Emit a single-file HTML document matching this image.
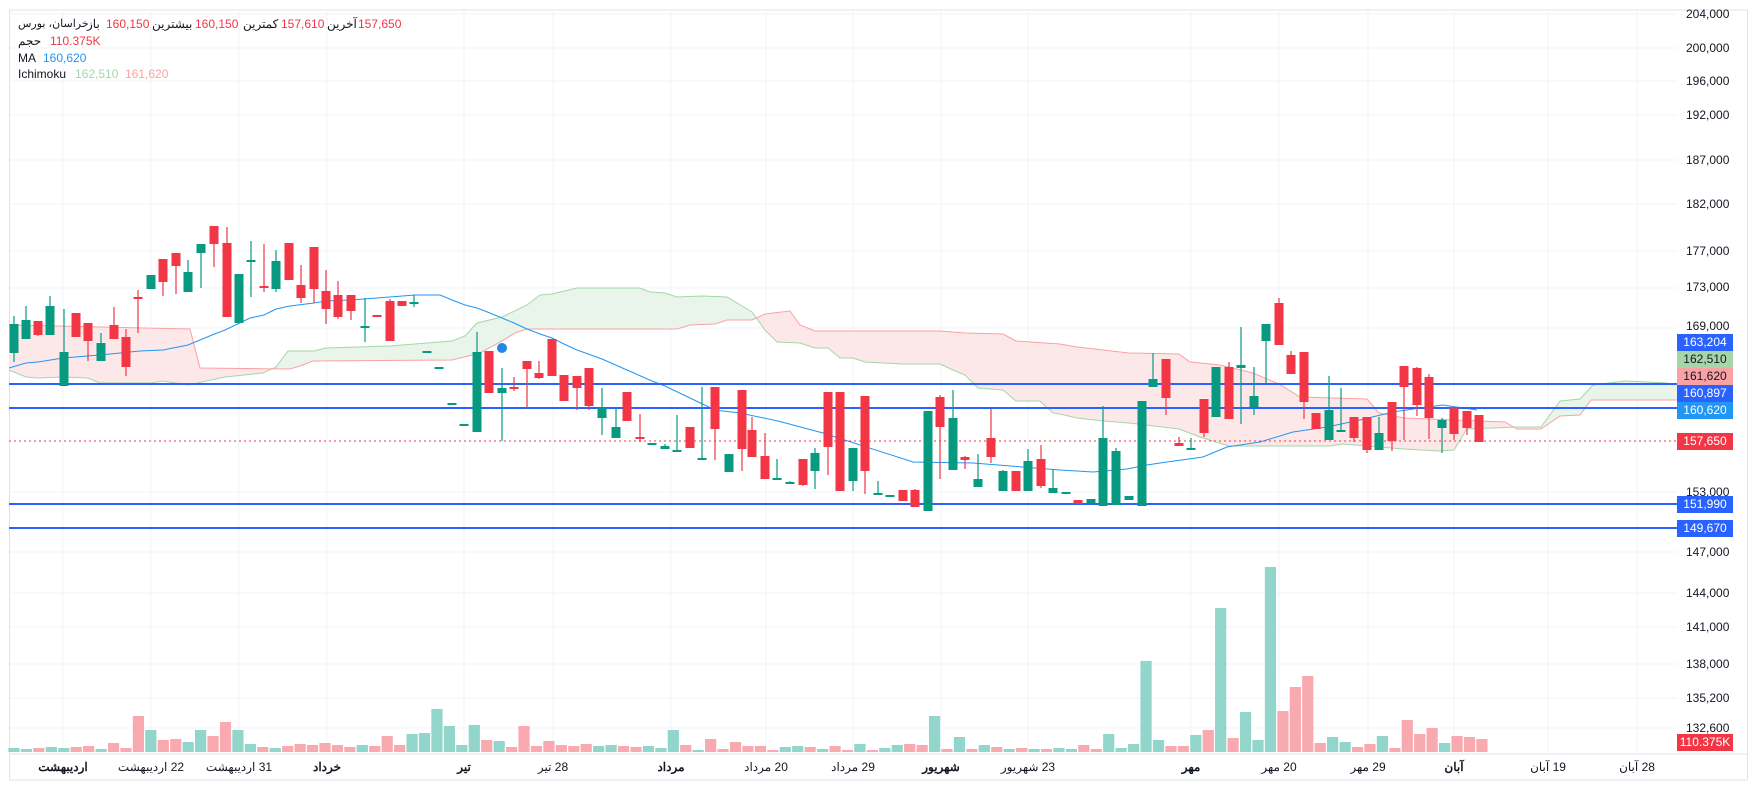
<!DOCTYPE html>
<html><head><meta charset="utf-8"><style>
html,body{margin:0;padding:0;background:#fff;}
#wrap{position:relative;width:1757px;height:790px;overflow:hidden;font-family:"Liberation Sans","Noto Sans CJK SC",sans-serif;font-size:12px;color:#131722;}
svg{position:absolute;left:0;top:0;}
.t{position:absolute;white-space:nowrap;line-height:14px;}
.ax{position:absolute;left:1686px;white-space:nowrap;line-height:14px;font-size:12px;color:#131722;}
.tag{position:absolute;left:1677px;width:56px;height:17px;line-height:17px;text-align:center;color:#fff;font-size:12px;}
.d{position:absolute;top:760px;width:120px;margin-left:-60px;text-align:center;white-space:nowrap;font-size:12px;direction:rtl;}
.b{font-weight:bold;}
.r{color:#f23645}
</style></head><body><div id="wrap">
<svg id="s" width="1757" height="790" viewBox="0 0 1757 790" xmlns="http://www.w3.org/2000/svg"></svg>

<div class="t" style="left:18px;top:17px;font-size:11px">خراسان، بورس</div>
<div class="t" style="left:87px;top:17px">باز</div>
<div class="t r" style="left:106px;top:17px">160,150</div>
<div class="t" style="left:152px;top:17px">بیشترین</div>
<div class="t r" style="left:195px;top:17px">160,150</div>
<div class="t" style="left:243px;top:17px">کمترین</div>
<div class="t r" style="left:281px;top:17px">157,610</div>
<div class="t" style="left:327px;top:17px">آخرین</div>
<div class="t r" style="left:358px;top:17px">157,650</div>
<div class="t" style="left:18px;top:34px">حجم</div>
<div class="t r" style="left:50px;top:34px">110.375K</div>
<div class="t" style="left:18px;top:51px">MA</div>
<div class="t" style="left:43px;top:51px;color:#2196f3">160,620</div>
<div class="t" style="left:18px;top:67px">Ichimoku</div>
<div class="t" style="left:75px;top:67px;color:#a5d6a7">162,510</div>
<div class="t" style="left:125px;top:67px;color:#faa1a4">161,620</div>

<div class="ax" style="top:7px">204,000</div>
<div class="ax" style="top:41px">200,000</div>
<div class="ax" style="top:74px">196,000</div>
<div class="ax" style="top:108px">192,000</div>
<div class="ax" style="top:153px">187,000</div>
<div class="ax" style="top:197px">182,000</div>
<div class="ax" style="top:244px">177,000</div>
<div class="ax" style="top:280px">173,000</div>
<div class="ax" style="top:319px">169,000</div>
<div class="ax" style="top:485px">153,000</div>
<div class="ax" style="top:545px">147,000</div>
<div class="ax" style="top:586px">144,000</div>
<div class="ax" style="top:620px">141,000</div>
<div class="ax" style="top:657px">138,000</div>
<div class="ax" style="top:691px">135,200</div>
<div class="ax" style="top:721px">132,600</div>

<div class="tag" style="top:334px;background:#2962ff">163,204</div>
<div class="tag" style="top:351px;background:#a5d6a7;color:#131722">162,510</div>
<div class="tag" style="top:368px;background:#faa1a4;color:#131722">161,620</div>
<div class="tag" style="top:385px;background:#2962ff">160,897</div>
<div class="tag" style="top:402px;background:#2196f3">160,620</div>
<div class="tag" style="top:433px;background:#f23645">157,650</div>
<div class="tag" style="top:496px;background:#2962ff">151,990</div>
<div class="tag" style="top:520px;background:#2962ff">149,670</div>
<div class="tag" style="top:734px;background:#f23645">110.375K</div>

<div class="d b" style="left:63px">اردیبهشت</div>
<div class="d" style="left:151px">22 اردیبهشت</div>
<div class="d" style="left:239px">31 اردیبهشت</div>
<div class="d b" style="left:327px">خرداد</div>
<div class="d b" style="left:464px">تیر</div>
<div class="d" style="left:553px">28 تیر</div>
<div class="d b" style="left:671px">مرداد</div>
<div class="d" style="left:766px">20 مرداد</div>
<div class="d" style="left:853px">29 مرداد</div>
<div class="d b" style="left:941px">شهریور</div>
<div class="d" style="left:1028px">23 شهریور</div>
<div class="d b" style="left:1191px">مهر</div>
<div class="d" style="left:1279px">20 مهر</div>
<div class="d" style="left:1368px">29 مهر</div>
<div class="d b" style="left:1454px">آبان</div>
<div class="d" style="left:1548px">19 آبان</div>
<div class="d" style="left:1637px">28 آبان</div>
</div>
<script>
var s=document.getElementById('s'),h='';
function R(x,y,w,hh,c){h+='<rect x="'+x+'" y="'+y+'" width="'+w+'" height="'+hh+'" fill="'+c+'"/>';}
function L(x1,y1,x2,y2,c,w,extra){h+='<line x1="'+x1+'" y1="'+y1+'" x2="'+x2+'" y2="'+y2+'" stroke="'+c+'" stroke-width="'+w+'" '+(extra||'')+'/>';}
function P(pts,c,w){h+='<polyline fill="none" stroke="'+c+'" stroke-width="'+w+'" points="'+pts.map(function(p){return p.join(',')}).join(' ')+'"/>';}
L(9,10,1747,10,'#e0e3eb',1);L(9.5,10,9.5,780,'#e0e3eb',1);L(1747.5,10,1747.5,780,'#e0e3eb',1);L(9,780,1747,780,'#e0e3eb',1);
[63,151,239,327,464,553,671,766,853,941,1028,1191,1279,1368,1454,1548,1637].forEach(function(x){L(x,11,x,754,'#f0f3fa',1);});
[14,48,81,115,160,204,251,288,328,492,552,593,627,664,698,728].forEach(function(y){L(10,y,1677,y,'#f0f3fa',1);});
L(10,754,1747,754,'#e0e3eb',1);
var A=[[9,370],[26,377],[38,378],[63,377],[88,378],[100,383],[151,383],[163,381],[188,385],[225,377],[263,373],[276,367],[288,351],[314,351],[326,348],[390,346],[427,343],[452,341],[465,336],[477,323],[502,317],[527,305],[540,295],[552,294],[577,288],[640,288],[650,292],[665,293],[677,297],[702,296],[727,297],[752,312],[765,330],[777,342],[800,343],[815,348],[828,348],[840,358],[853,358],[865,362],[903,364],[940,364],[953,370],[965,375],[978,388],[1003,390],[1016,401],[1040,401],[1053,413],[1060,414],[1077,418],[1103,421],[1129,423],[1179,429],[1200,437],[1229,446],[1330,446],[1343,444],[1379,447],[1404,449],[1440,451],[1454,450],[1467,429],[1517,427],[1541,427],[1560,401],[1580,399],[1593,385],[1625,381],[1668,383]];
var B=[[9,325],[190,329],[200,368],[290,369],[300,366],[313,361],[452,360],[480,353],[502,341],[515,333],[527,329],[677,329],[690,325],[715,324],[727,320],[752,320],[765,314],[790,311],[800,325],[815,331],[940,331],[965,333],[1003,334],[1016,341],[1060,344],[1077,347],[1129,353],[1179,354],[1190,362],[1220,365],[1253,373],[1279,384],[1300,397],[1367,399],[1379,413],[1404,418],[1505,422],[1517,429],[1541,429],[1560,416],[1580,415],[1591,400],[1677,400]];
function I(a,x){if(x<=a[0][0])return a[0][1];for(var i=1;i<a.length;i++){if(x<=a[i][0]){var p=a[i-1],q=a[i];return p[1]+(q[1]-p[1])*(x-p[0])/(q[0]-p[0]);}}return a[a.length-1][1];}
for(var x=9;x<1677;x++){var a=I(A,x+.5),b=I(B,x+.5);if(a<b)R(x,a,1,b-a,'#e9f4ea');else R(x,b,1,a-b,'#fde8e9');}
P(A,'#a5d6a7',1);P(B,'#faa1a4',1);
var v1=[174,177,174,171,174,171,168,177,159,174,78,120,150,147,156,120,138,96,120,162,171,174,168,162,165,159,165,171,165,168,138,165,132,129,57,108,165,105,150,153,171,108,168,153,165,168,162,168,165,168,171,168,174,120,165,180,147,177,156,168];
var col1=['g','g','p','g','g','p','p','g','p','p','p','g','p','p','g','g','p','p','g','g','p','g','p','p','p','p','p','p','g','p','p','p','g','g','g','g','g','g','p','g','p','p','p','p','p','p','p','g','g','p','p','g','g','g','p','g','p','p','p','p'];
var v2=[558,570,561,558,561,567,558,570,552,570,564,555,552,555,468,567,531,567,555,561,567,564,567,567,564,567,555,567,522,564,552,303,540,558,558,525,510,144,534,456,540,21,453,381,348,549,531,546,561,552,528,564,480,522,504,549,528,531,537];
var col2=['p','p','g','g','p','g','p','p','g','p','g','g','p','p','g','p','g','p','g','p','g','p','g','p','g','g','p','p','g','g','g','g','g','p','p','g','p','g','p','g','g','g','p','p','p','p','g','g','p','p','g','p','p','p','p','g','p','p','p'];
function VB(i,y,c){var xc=14+i*12.44;R(xc-5.6,y,11.2,752-y,c=='g'?'#92d5ca':'#f9a9b0');}
for(var i=0;i<60;i++)VB(i,690+v1[i]/3,col1[i]);
for(var i=0;i<59;i++)VB(60+i,560+v2[i]/3,col2[i]);
P([[9,368],[26,363],[38,362],[63,358],[100,355],[140,351],[163,350],[188,345],[212,335],[225,330],[250,318],[264,315],[276,309],[290,306],[314,303],[326,301],[350,300],[390,297],[415,295],[440,295],[452,300],[465,305],[477,308],[490,313],[502,318],[514,323],[527,329],[540,334],[552,338],[564,344],[577,350],[602,359],[627,370],[652,381],[665,386],[690,398],[715,410],[740,413],[778,421],[823,433],[913,462],[973,463],[1060,470],[1093,472],[1127,469],[1147,465],[1160,463],[1203,457],[1227,447],[1260,442],[1293,432],[1327,427],[1360,420],[1393,412],[1427,407],[1443,405],[1477,410]],'#2196f3',1);
[384,408,504,528].forEach(function(y){L(9,y,1677,y,'#2962ff',2);});
L(9,441,1677,441,'#f23645',1,'stroke-dasharray="2,3"');
var C=[[14,324,353,316,362,'g'],[26,320,339,306,339,'g'],[38,321,335,321,336,'r'],[50,306,335,296,335,'g'],[64,352,386,309,386,'g'],[76,313,337,313,337,'r'],[88,323,341,323,361,'r'],[101,343,361,333,361,'g'],[114,325,339,307,339,'r'],[126,337,367,329,376,'r'],[138,297,299,290,333,'r'],[151,275,289,275,289,'g'],[163,259,282,259,296,'r'],[176,253,266,253,294,'r'],[188,272,292,260,292,'g'],[201,244,253,244,288,'g'],[214,226,244,226,267,'r'],[227,243,317,227,317,'r'],[239,274,323,274,323,'g'],[251,260,262,241,297,'g'],[264,286,288,244,292,'r'],[276,261,289,250,292,'g'],[289,243,280,243,280,'r'],[301,285,298,265,303,'r'],[314,247,289,247,303,'r'],[326,291,309,270,324,'r'],[338,295,317,281,319,'r'],[351,295,311,295,320,'r'],[365,326,328,298,342,'g'],[377,315,317,315,317,'r'],[390,301,341,299,341,'r'],[402,301,306,301,306,'r'],[414,302,304,295,307,'g'],[427,351,353,351,353,'g'],[439,367,369,367,369,'g'],[452,403,405,403,405,'g'],[464,424,426,424,426,'g'],[477,352,432,332,432,'g'],[489,351,393,351,393,'r'],[502,388,393,368,441,'g'],[514,387,389,377,391,'r'],[527,361,369,361,408,'r'],[539,373,378,361,379,'r'],[552,339,376,339,376,'r'],[564,375,401,375,401,'r'],[577,376,388,376,410,'r'],[589,368,406,368,410,'r'],[602,408,418,388,435,'g'],[616,427,438,407,438,'g'],[627,392,421,392,421,'r'],[640,437,439,414,442,'r'],[652,443,445,443,445,'g'],[665,446,449,444,449,'g'],[677,450,452,415,452,'g'],[690,427,448,427,448,'r'],[702,458,460,387,460,'g'],[715,387,429,387,460,'r'],[729,454,472,454,472,'g'],[742,390,449,390,471,'r'],[752,430,457,417,457,'r'],[765,456,479,433,479,'r'],[777,478,480,459,480,'g'],[790,482,484,481,484,'g'],[803,459,485,459,486,'r'],[815,453,471,448,489,'g'],[828,392,447,392,475,'r'],[840,392,491,392,491,'r'],[853,448,481,448,491,'g'],[865,396,471,396,494,'r'],[878,493,495,481,495,'g'],[890,495,497,495,497,'g'],[903,490,501,490,501,'r'],[915,490,507,489,507,'r'],[928,411,511,411,511,'g'],[940,397,427,395,479,'r'],[953,418,470,390,470,'g'],[965,457,460,456,469,'r'],[978,479,487,454,487,'g'],[991,438,457,409,463,'r'],[1003,471,491,470,491,'g'],[1016,471,491,471,491,'r'],[1028,461,491,449,491,'g'],[1041,459,486,445,488,'r'],[1053,488,493,469,493,'g'],[1066,492,494,492,494,'g'],[1078,500,504,500,504,'r'],[1091,499,503,499,503,'g'],[1103,438,506,406,506,'g'],[1116,451,505,448,505,'g'],[1129,496,500,496,500,'g'],[1142,401,506,401,506,'g'],[1153,379,387,353,387,'g'],[1166,359,398,359,415,'r'],[1179,443,446,437,446,'r'],[1191,448,450,438,450,'g'],[1204,399,433,399,437,'r'],[1216,367,417,367,417,'g'],[1229,367,419,362,419,'r'],[1241,365,368,327,424,'g'],[1254,396,407,367,415,'g'],[1266,324,341,324,383,'g'],[1279,303,345,298,345,'r'],[1291,355,374,351,374,'r'],[1304,352,402,352,419,'r'],[1316,413,429,413,429,'r'],[1329,410,440,376,440,'g'],[1341,430,432,388,432,'g'],[1354,417,438,417,442,'r'],[1367,417,450,417,453,'r'],[1379,433,450,417,450,'g'],[1392,402,441,402,451,'r'],[1404,366,387,366,440,'r'],[1417,368,405,367,416,'r'],[1429,377,418,374,439,'r'],[1442,420,428,418,453,'g'],[1454,407,434,407,440,'r'],[1467,411,428,411,435,'r'],[1479,415,442,415,442,'r']];
C.forEach(function(c){var col=c[5]=='g'?'#089981':'#f23645';L(c[0],c[3],c[0],c[4],col,1.2);var hh=Math.max(2,c[2]-c[1]);R(c[0]-4.5,c[1],9,hh,col);});
h+='<circle cx="502" cy="348" r="5" fill="#1e88e5"/>';
s.innerHTML=h;
</script>
</body></html>
